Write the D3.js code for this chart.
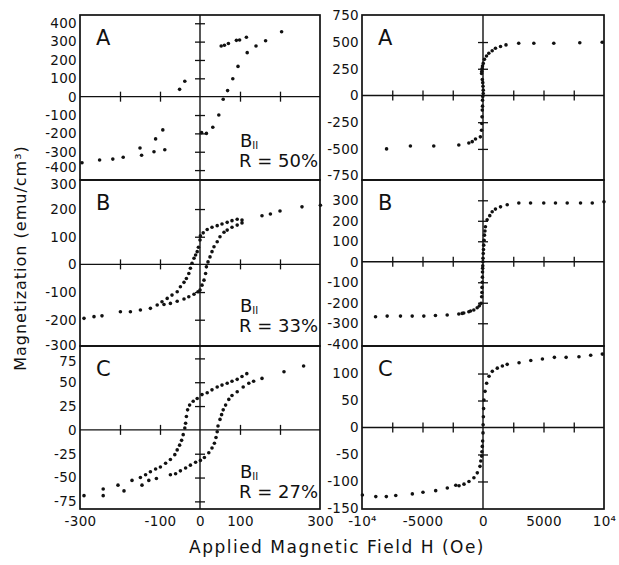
<!DOCTYPE html>
<html>
<head>
<meta charset="utf-8">
<script src="https://cdn.jsdelivr.net/npm/d3@7"></script>
<style>
body { margin: 0; background: #fff; }
text { font-family: "DejaVu Sans", sans-serif; fill: #111; }
</style>
</head>
<body>
<div id="chart-area"></div>
<script>
// points, [H (Oe), M (emu/cm3)]
const leftA = [[-295,-360],[-251,-345],[-218,-340],[-192,-330],[-150,-280],[-146,-319],[-115,-300],[-111,-230],
    [-93,-181],[-88,-289],[-51,40],[-38,84],[4,-196],[16,-200],[32,-167],[47,-100],[58,-14],[69,33],[82,98],
    [95,165],[118,240],[140,276],[164,305],[204,354],[53,276],[61,280],[71,290],[91,307],[99,309],[116,324]];
const leftB = [[301,214],[255,208],[200,193],[176,182],[155,176],
    [105,160],[93,163],[80,158],[68,152],[55,146],[43,140],[30,134],[18,126],[8,114],[1,103],[0,88],
    [-4,62],[-7,46],[-11,34],[-15,22],[-20,4],[-24,-14],[-28,-33],[-34,-51],[-40,-65],[-49,-81],[-57,-99],[-70,-111],
    [-82,-123],[-95,-135],[-107,-147],[-124,-159],[-149,-165],[-174,-171],[-199,-171],[-245,-186],[-265,-189],[-290,-195],
    [-90,-145],[-74,-141],[-57,-133],[-40,-125],[-28,-117],[-15,-108],[-5,-99],[0,-93],[5,-75],[10,-57],[14,-33],
    [16,-9],[20,9],[25,27],[30,46],[35,64],[43,82],[50,100],[60,116],[68,124],[80,134],[93,142],[105,150]];
const leftC = [[259,67],[210,61],[155,54],[134,51],
    [117,59],[105,56],[93,53],[80,51],[68,49],[55,47],[43,45],[30,42],[18,39],[5,37],[-7,33],[-17,30],[-26,26],
    [-31,21],[-34,14],[-36,7],[-38,2],[-42,-5],[-46,-11],[-51,-16],[-57,-21],[-63,-26],[-74,-31],[-86,-35],[-99,-39],
    [-111,-41],[-124,-44],[-136,-47],[-149,-50],[-170,-53],[-190,-64],[-205,-58],[-242,-62],[-242,-69],[-290,-69],
    [-145,-58],[-128,-53],[-109,-51],[-74,-47],[-61,-46],[-49,-43],[-36,-40],[-24,-37],[-11,-34],[1,-32],[11,-29],
    [22,-24],[30,-19],[36,-14],[40,-8],[43,-2],[45,4],[50,11],[54,16],[58,21],[64,26],[72,32],[80,36],[93,40],
    [108,45],[122,49]];
const rightA = [[9850,498],[8000,494],[5850,489],[4200,489],[2950,489],[1900,473],[1450,458],[1030,442],[760,419],
    [480,395],[290,369],[120,338],[20,300],[-40,275],[-70,252],[-100,225],[-120,206],[-60,150],[-20,120],[0,86],[20,50],
    [20,19],[-20,-10],[-40,-44],[-40,-100],[-60,-137],[-80,-200],[-100,-262],[-120,-325],[-220,-387],[-620,-407],
    [-890,-432],[-1170,-445],[-2000,-463],[-4070,-473],[-6000,-473],[-7970,-500]];
const rightB = [[10000,293],[9030,287],[8060,287],[6960,287],[5990,287],[5020,287],[3930,287],[2960,287],[2000,278],
    [1450,268],[1030,257],[760,244],[560,225],[340,205],[200,171],[160,150],[120,130],[90,105],[60,81],[40,60],
    [20,40],[0,17],[-10,0],[-20,-20],[-30,-32],[-40,-50],[-50,-75],[-60,-100],[-80,-125],[-90,-150],[-110,-171],
    [-160,-203],[-300,-215],[-480,-224],[-760,-235],[-1030,-240],[-1170,-244],[-1590,-250],[-1720,-252],[-2000,-255],
    [-2960,-260],[-3930,-262],[-4890,-265],[-5850,-265],[-6820,-265],[-7920,-265],[-8880,-268]];
const rightC = [[9860,136],[8900,134],[7930,131],[6870,130],[5900,130],[4910,127],[3950,124],[2980,120],[2000,117],
    [1600,114],[1180,110],[770,104],[500,95],[300,82],[170,67],[80,51],[50,35],[30,20],[10,5],[0,-10],[-30,-25],
    [-60,-35],[-90,-45],[-110,-53],[-180,-62],[-250,-72],[-470,-84],[-750,-93],[-1160,-100],[-1570,-105],
    [-1980,-108],[-2250,-107],[-2950,-112],[-3910,-117],[-4960,-120],[-5840,-123],[-7210,-126],[-7990,-128],
    [-8860,-128],[-9970,-125]];

// tick labels
const leftXTicks = [-300, -100, 0, 100, 300];
const rightXTicks = [-10000, -5000, 0, 5000, 10000];
const yTicksLA = [400, 300, 200, 100, 0, -100, -200, -300, -400];
const yTicksLB = [300, 200, 100, 0, -100, -200, -300];
const yTicksLC = [75, 50, 25, 0, -25, -50, -75];
const yTicksRA = [750, 500, 250, 0, -250, -500, -750];
const yTicksRB = [300, 200, 100, 0, -100, -200, -300, -400];
const yTicksRC = [100, 50, 0, -50, -100, -150];
const letters = ["A", "B", "C"];
const ratios = ["R = 50%", "R = 33%", "R = 27%"];

const svg = d3.select("#chart-area")
    .append("svg")
    .attr("width", 619)
    .attr("height", 565);

const rows = [[180, 15], [346, 180], [509, 346]];
const xL = d3.scaleLinear().domain([-300, 300]).range([80, 320]);
const xR = d3.scaleLinear().domain([-10000, 10000]).range([362, 604]);

const panels = [
    { x: xL, row: 0, dom: [-454, 445], data: leftA, ticks: yTicksLA, ycross: [-400, -300, -200, -100, 100, 200, 300, 400], xcross: [-200, -100, 100, 200] },
    { x: xL, row: 1, dom: [-295, 305], data: leftB, ticks: yTicksLB, ycross: [-200, -100, 100, 200], xcross: [-200, -100, 100, 200] },
    { x: xL, row: 2, dom: [-83, 88], data: leftC, ticks: yTicksLC, ycross: [-75, -50, -25, 25, 50, 75], xcross: [-200, -100, 100, 200] },
    { x: xR, row: 0, dom: [-791, 753], data: rightA, ticks: yTicksRA, ycross: [-500, -250, 250, 500], xcross: [-7500, -5000, -2500, 2500, 5000, 7500] },
    { x: xR, row: 1, dom: [-411, 399], data: rightB, ticks: yTicksRB, ycross: [-300, -200, -100, 100, 200, 300], xcross: [-7500, -5000, -2500, 2500, 5000, 7500] },
    { x: xR, row: 2, dom: [-151, 151], data: rightC, ticks: yTicksRC, ycross: [-100, -50, 50, 100], xcross: [-7500, -5000, -2500, 2500, 5000, 7500] }
];

const tickText = sel => sel.selectAll("text")
    .attr("font-size", "13.5px")
    .attr("letter-spacing", "0.3px")
    .attr("fill", "#111");

panels.forEach(p => {
    const x = p.x;
    const y = d3.scaleLinear().domain(p.dom).range(rows[p.row]);
    const [x0, x1] = x.range();
    const [y0, y1] = y.range();
    const g = svg.append("g");

    // frame
    g.append("rect")
        .attr("x", x0).attr("y", y1)
        .attr("width", x1 - x0).attr("height", y0 - y1)
        .attr("fill", "none").attr("stroke", "#111").attr("stroke-width", 1.7);

    // zero lines
    g.append("line")
        .attr("x1", x0).attr("x2", x1).attr("y1", y(0)).attr("y2", y(0))
        .attr("stroke", "#111").attr("stroke-width", 1.4);
    g.append("line")
        .attr("x1", x(0)).attr("x2", x(0)).attr("y1", y1).attr("y2", y0)
        .attr("stroke", "#111").attr("stroke-width", 1.4);

    // cross ticks on the zero lines
    g.append("g")
        .attr("transform", "translate(0, " + (y(0) - 5) + ")")
        .call(d3.axisBottom(x).tickValues(p.xcross).tickSize(10).tickFormat(""))
        .call(a => a.select(".domain").remove())
        .selectAll("line").attr("stroke", "#111").attr("stroke-width", 1.3);
    g.append("g")
        .attr("transform", "translate(" + (x(0) + 5) + ", 0)")
        .call(d3.axisLeft(y).tickValues(p.ycross).tickSize(10).tickFormat(""))
        .call(a => a.select(".domain").remove())
        .selectAll("line").attr("stroke", "#111").attr("stroke-width", 1.3);

    // y tick labels; the ones at the panel edges sit a little inside, as in the figure
    const top = p.ticks[0], bottom = p.ticks[p.ticks.length - 1];
    const yAxis = g.append("g")
        .attr("transform", "translate(" + x0 + ", 0)")
        .call(d3.axisLeft(y).tickValues(p.ticks).tickSize(0).tickPadding(3).tickFormat(d => String(d)))
        .call(a => a.select(".domain").remove())
        .call(tickText);
    if (x === xL) {
        yAxis.selectAll("text")
            .attr("y", d => (d === bottom && p.row < 2) ? -2.5 : (d === top && p.row > 0) ? 3 : 0);
    }

    // points
    g.selectAll("circle")
        .data(p.data)
        .enter()
        .append("circle")
        .attr("cx", d => x(d[0]))
        .attr("cy", d => y(d[1]))
        .attr("r", 1.8)
        .attr("fill", "#111");

    // panel letter
    g.append("text")
        .attr("x", x0 + 16)
        .attr("y", y1 + 30)
        .attr("font-size", "21px")
        .text(letters[p.row]);

    if (x === xL) {
        const t = g.append("text")
            .attr("x", 240)
            .attr("y", y1 + 132)
            .attr("font-size", "18px");
        t.append("tspan").text("B");
        t.append("tspan").attr("font-size", "10px").attr("dy", 2).text("II");
        g.append("text")
            .attr("x", 239)
            .attr("y", y1 + 152)
            .attr("font-size", "18px")
            .text(ratios[p.row]);
    }
});

// bottom axes
const bottomY = rows[2][0];
svg.append("g")
    .attr("transform", "translate(0, " + bottomY + ")")
    .call(d3.axisBottom(xL).tickValues(leftXTicks).tickSize(0).tickPadding(7).tickFormat(d => String(d)))
    .call(a => a.select(".domain").remove())
    .call(tickText);
svg.append("g")
    .attr("transform", "translate(0, " + bottomY + ")")
    .call(d3.axisBottom(xR).tickValues(rightXTicks).tickSize(0).tickPadding(7)
        .tickFormat(d => d === 10000 ? "10⁴" : d === -10000 ? "-10⁴" : String(d)))
    .call(a => a.select(".domain").remove())
    .call(tickText);

// axis titles
svg.append("text")
    .attr("x", 337)
    .attr("y", 553)
    .attr("font-size", "17px")
    .attr("letter-spacing", "1.5px")
    .attr("text-anchor", "middle")
    .text("Applied Magnetic Field H (Oe)");
svg.append("text")
    .attr("transform", "translate(26, 258) rotate(-90)")
    .attr("font-size", "16px")
    .attr("letter-spacing", "1px")
    .attr("text-anchor", "middle")
    .text("Magnetization (emu/cm³)");
</script>
</body>
</html>
